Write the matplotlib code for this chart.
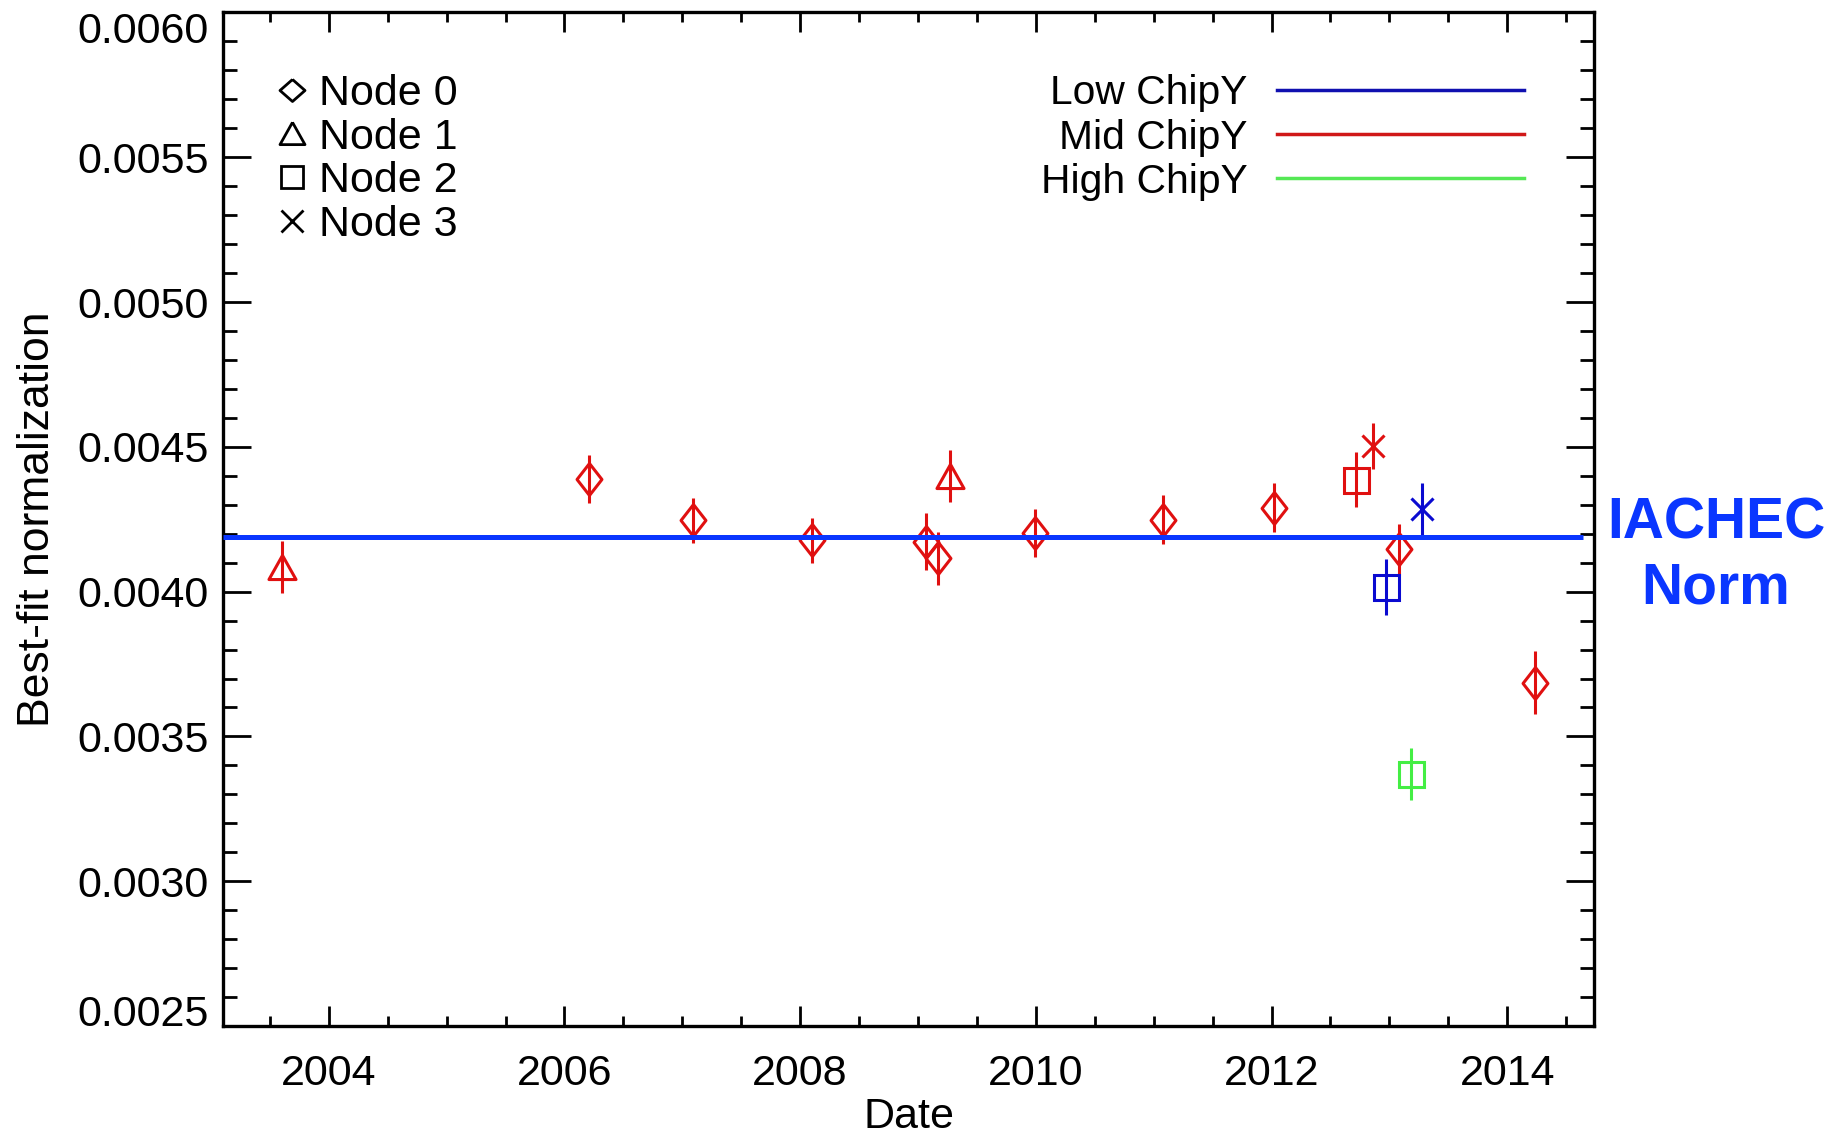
#!/usr/bin/env python3
"""Best-fit normalization vs date, per node and chipY region, with IACHEC norm."""

import matplotlib

matplotlib.use("Agg")
import matplotlib.pyplot as plt
from matplotlib.lines import Line2D
from matplotlib.ticker import MultipleLocator

plt.rcParams["font.family"] = ["Liberation Sans", "DejaVu Sans"]

# observation dates (decimal year), fitted normalization and 1-sigma errors
DATES = [2003.60, 2006.21, 2007.09, 2008.10, 2009.07, 2009.17, 2009.27,
         2009.99, 2011.08, 2012.02, 2012.72, 2012.86, 2013.08, 2012.97,
         2013.28, 2013.18, 2014.24]
NORMS = [0.004084, 0.004390, 0.004246, 0.004178, 0.004172, 0.004115, 0.004399,
         0.004203, 0.004249, 0.004290, 0.004387, 0.004502, 0.004146, 0.004017,
         0.004286, 0.003370, 0.003686]
ERRORS = [0.000090, 0.000083, 0.000078, 0.000078, 0.000098, 0.000092, 0.000090,
          0.000083, 0.000085, 0.000084, 0.000095, 0.000080, 0.000087, 0.000096,
          0.000090, 0.000091, 0.000108]
NODES = [1, 0, 0, 0, 0, 0, 1, 0, 0, 0, 2, 3, 0, 2, 3, 2, 0]
CHIPY = ["mid", "mid", "mid", "mid", "mid", "mid", "mid", "mid", "mid", "mid",
         "mid", "mid", "mid", "low", "low", "high", "mid"]

IACHEC_NORM = 0.00419
IACHEC_END = 2014.64
YMIN, YMAX = 0.0025, 0.0060

NODE_LABELS = ["Node 0", "Node 1", "Node 2", "Node 3"]
CHIPY_KEYS = ["low", "mid", "high"]
CHIPY_LABELS = ["Low ChipY", "Mid ChipY", "High ChipY"]

POINT_COLORS = {"low": "#0a0ad0", "mid": "#e01010", "high": "#44ee44"}
LINE_COLORS = {"low": "#1010b0", "mid": "#d01818", "high": "#55e855"}
IACHEC_COLOR = "#0a36ff"

DIAMOND = [(0, 1), (0.78, 0), (0, -1), (-0.78, 0), (0, 1)]
DIAMOND_LEG = [(0, 0.88), (1, 0), (0, -0.88), (-1, 0), (0, 0.88)]
TRIANGLE = [(0, 0.89), (1, -0.89), (-1, -0.89), (0, 0.89)]
NODE_MARKERS = {0: (DIAMOND, 23), 1: (TRIANGLE, 19.5), 2: ("s", 18), 3: ("x", 16.5)}
LEG_MARKERS = [(DIAMOND_LEG, 18), (TRIANGLE, 18), ("s", 16), ("x", 16)]

FS = 31


def main() -> None:
    fig = plt.figure(figsize=(18.32, 11.34), dpi=100)
    ax = fig.add_axes([0.1216, 0.0952, 0.7487, 0.8938])

    for d, n, e, node, chip in zip(DATES, NORMS, ERRORS, NODES, CHIPY):
        marker, ms = NODE_MARKERS[node]
        color = POINT_COLORS[chip]
        ax.errorbar(d, n, yerr=e, fmt="none", ecolor=color, elinewidth=2.2,
                    capsize=0, zorder=3)
        ax.plot(d, n, linestyle="none", marker=marker, markersize=ms,
                markerfacecolor="none", markeredgecolor=color,
                markeredgewidth=2.2, zorder=3)

    xlo, xhi = min(DATES) - 0.5, max(DATES) + 0.5
    ax.hlines(IACHEC_NORM, xlo, IACHEC_END, color=IACHEC_COLOR, linewidth=3.6,
              zorder=4)

    ax.set_xlim(xlo, xhi)
    ax.set_ylim(YMIN, YMAX)
    ax.xaxis.set_major_locator(MultipleLocator(2))
    ax.xaxis.set_minor_locator(MultipleLocator(0.5))
    ax.yaxis.set_major_locator(MultipleLocator(0.0005))
    ax.yaxis.set_minor_locator(MultipleLocator(0.0001))
    ax.yaxis.set_major_formatter(lambda v, pos: f"{v:.4f}")

    ax.tick_params(axis="both", which="both", direction="in", top=True,
                   right=True, width=2.0, labelsize=FS)
    ax.tick_params(axis="x", which="major", length=14.4, pad=20)
    ax.tick_params(axis="x", which="minor", length=7.2)
    ax.tick_params(axis="y", which="major", length=20, pad=10)
    ax.tick_params(axis="y", which="minor", length=10)
    for spine in ax.spines.values():
        spine.set_linewidth(2.4)

    ax.set_xlabel("Date", fontsize=FS, labelpad=2)
    ax.set_ylabel("Best-fit normalization", fontsize=32, labelpad=14)

    node_handles = [
        Line2D([], [], linestyle="none", marker=m, markersize=s,
               markerfacecolor="none", markeredgecolor="black",
               markeredgewidth=2.0)
        for m, s in LEG_MARKERS
    ]
    leg1 = ax.legend(node_handles, NODE_LABELS, loc="center left",
                     bbox_to_anchor=(0.0349, 0.855), frameon=False,
                     fontsize=FS, handlelength=1.0, handletextpad=0.13,
                     labelspacing=0.09, borderpad=0, borderaxespad=0)
    ax.add_artist(leg1)

    chip_handles = [Line2D([], [], color=LINE_COLORS[k], linewidth=2.5)
                    for k in CHIPY_KEYS]
    ax.legend(chip_handles, CHIPY_LABELS, loc="center right",
              bbox_to_anchor=(0.9488, 0.8766), frameon=False, fontsize=29.3,
              markerfirst=False, handlelength=6.07, handletextpad=0.73,
              labelspacing=0.15, borderpad=0, borderaxespad=0)

    ax.text(1.0887, 0.464, "IACHEC\nNorm", transform=ax.transAxes,
            ha="center", va="center", color=IACHEC_COLOR, fontsize=41,
            fontweight="bold", linespacing=1.26, clip_on=False)

    # end labels sit inside the axis range, like the IDL original
    fig.canvas.draw()
    for tick in ax.yaxis.get_major_ticks():
        loc = tick.get_loc()
        if abs(loc - YMIN) < 1e-9:
            tick.label1.set_verticalalignment("baseline")
        elif abs(loc - YMAX) < 1e-9:
            tick.label1.set_verticalalignment("top")

    fig.savefig("out.png", dpi=100, facecolor="white")
    plt.close(fig)


if __name__ == "__main__":
    main()
